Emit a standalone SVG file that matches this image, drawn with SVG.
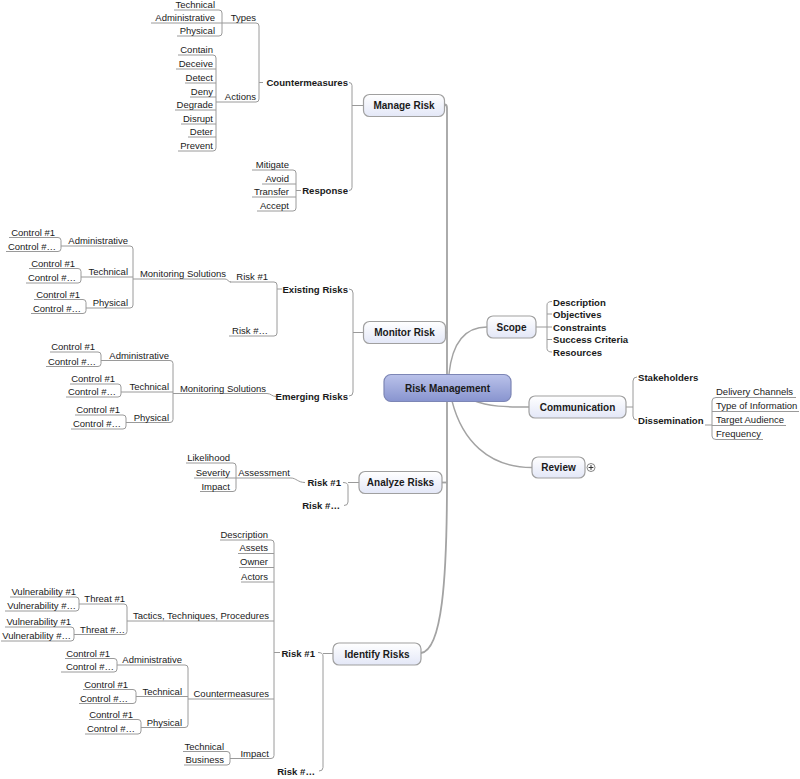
<svg xmlns="http://www.w3.org/2000/svg" width="800" height="779" viewBox="0 0 800 779">
<defs>
<linearGradient id="sub" x1="0" y1="0" x2="0" y2="1"><stop offset="0" stop-color="#ffffff"/><stop offset="1" stop-color="#e3e7f7"/></linearGradient>
<linearGradient id="rootg" x1="0" y1="0" x2="0" y2="1"><stop offset="0" stop-color="#bac2ea"/><stop offset="1" stop-color="#8894cf"/></linearGradient>
</defs>
<style>
.t{font-family:"Liberation Sans",Arial,Helvetica,sans-serif;font-size:9.5px;fill:#1a1a1a}
.b{font-weight:bold;font-size:9.6px}
.bx{font-weight:bold;font-size:10px;text-anchor:middle}
.e{text-anchor:end}
.u{fill:none;stroke:#9a9a9a;stroke-width:1}
.c{fill:none;stroke:#9a9a9a;stroke-width:1}
.k{fill:none;stroke:#a3a3a3;stroke-width:1.8}
.rc{fill:none;stroke:#a3a3a3;stroke-width:1.4}
.box{fill:url(#sub);stroke:#a0a0a0;stroke-width:1.2}
.root{fill:url(#rootg);stroke:#7d86b5;stroke-width:1.2}
</style>
<rect width="800" height="779" fill="#ffffff"/>

<g id="connectors">
<path class="k" d="M444.5,104.5 Q447,104.5 447,108 V480 C447,580 442,650 421,653"/>
<path class="k" d="M445.5,332.5 H447"/>
<path class="k" d="M442,482.5 H447"/>
<path class="rc" d="M449,374 C452,345 463,327 487,327"/>
<path class="rc" d="M472,400 C490,407 505,407 529,407"/>
<path class="rc" d="M452,401 C462,440 488,467.5 532,467.5"/>
<!-- Manage Risk -->
<path class="c" d="M349,82.5 Q352,82.5 352,85.5 V187.5 Q352,190.5 349,190.5 M352,105.5 H363.5"/>
<path class="c" d="M256,23 Q259,23 259,26 V99 Q259,102 256,102 M259,82.5 H263"/>
<path class="c" d="M219,10 Q222,10 222,13 V33 Q222,36 219,36"/>
<path class="c" d="M213,55 Q216,55 216,58 V148 Q216,151 213,151"/>
<path class="c" d="M293,170 Q296,170 296,173 V208 Q296,211 293,211 M296,190.5 H301"/>
<!-- Monitor Risk -->
<path class="c" d="M349,289 Q353,289 353,293 V392 Q353,396 349,396 M353,332.5 H363.5"/>
<path class="c" d="M274,282 Q277,282 277,285 V333 Q277,336 274,336 M277,289 H282"/>
<path class="c" d="M225,279 C228,279 228,282 231,282"/>
<path class="c" d="M130,246 Q133,246 133,249 V305 Q133,308 130,308"/>
<path class="c" d="M58,237.5 Q61,237.5 61,240.5 V248.5 Q61,251.5 58,251.5"/>
<path class="c" d="M78,268.5 Q81,268.5 81,271.5 V280 Q81,283 78,283"/>
<path class="c" d="M83,299.5 Q86,299.5 86,302.5 V310.5 Q86,313.5 83,313.5"/>
<path class="c" d="M267,393.5 C271,393.5 272,396.5 276,396.5"/>
<path class="c" d="M170,360.5 Q173,360.5 173,363.5 V419.5 Q173,422.5 170,422.5"/>
<path class="c" d="M98,352 Q101,352 101,355 V363.5 Q101,366.5 98,366.5"/>
<path class="c" d="M118,384 Q121,384 121,387 V394 Q121,397 118,397"/>
<path class="c" d="M123,415 Q126,415 126,418 V426 Q126,429 123,429"/>
<!-- Analyze Risks -->
<path class="c" d="M343,482.5 Q348,482.5 348,486 V502 Q348,505.5 344,505.5 M348,482.5 H359"/>
<path class="c" d="M291,478 C296,478 298,482.5 305,482.5"/>
<path class="c" d="M233,463 Q236,463 236,466 V488.5 Q236,491.5 233,491.5"/>
<!-- Identify Risks -->
<path class="c" d="M318,652.5 Q323,652.5 323,656 V767.5 Q323,771 319,771 M323,653.5 H333"/>
<path class="c" d="M271,540 Q274,540 274,543 V755.5 Q274,758.5 271,758.5 M274,652.5 H280"/>
<path class="c" d="M124,604 Q127,604 127,607 V631.5 Q127,634.5 124,634.5"/>
<path class="c" d="M76,597 Q79,597 79,600 V608 Q79,611 76,611"/>
<path class="c" d="M71,627 Q74,627 74,630 V638 Q74,641 71,641"/>
<path class="c" d="M185,665 Q188,665 188,668 V724.5 Q188,727.5 185,727.5"/>
<path class="c" d="M114,658.5 Q117,658.5 117,661.5 V669 Q117,672 114,672"/>
<path class="c" d="M133,689.5 Q136,689.5 136,692.5 V700.5 Q136,703.5 133,703.5"/>
<path class="c" d="M138,719.5 Q141,719.5 141,722.5 V731 Q141,734 138,734"/>
<path class="c" d="M227,751.5 Q230,751.5 230,754.5 V762 Q230,765 227,765"/>
<!-- Right side -->
<path class="c" d="M552,301.5 Q547,301.5 547,305 V348.5 Q547,352 552,352 M547,314 H552 M547,327 H552 M547,339.5 H552 M536,327 H547"/>
<path class="c" d="M637,377 Q633,377 633,381 V416 Q633,420 637,420 M626,407 H633"/>
<path class="c" d="M705,425 H712 M716,397.5 Q712,397.5 712,401 V436 Q712,439.5 716,439.5"/>
</g>

<!-- ROOT -->
<g id="risk-management"><rect class="root" x="384" y="374.5" width="127" height="27" rx="7"/><text class="t bx" x="447.5" y="391.5">Risk Management</text></g>

<!-- MANAGE RISK -->
<g id="manage-risk"><rect class="box" x="363.5" y="94.5" width="81" height="22" rx="6"/><text class="t bx" x="404" y="109">Manage Risk</text></g>
<g id="mr-countermeasures"><text class="t b e" x="348" y="86">Countermeasures</text></g>
<g id="mr-types"><path class="u" d="M222,23 H256"/><text class="t e" x="256" y="21">Types</text></g>
<g id="mr-types-technical"><path class="u" d="M174,10 H219"/><text class="t e" x="215" y="8.3">Technical</text></g>
<g id="mr-types-administrative"><path class="u" d="M151,23 H222"/><text class="t e" x="215" y="21">Administrative</text></g>
<g id="mr-types-physical"><path class="u" d="M177,36 H219"/><text class="t e" x="215" y="34">Physical</text></g>
<g id="mr-actions"><path class="u" d="M216,102 H256"/><text class="t e" x="256" y="100">Actions</text></g>
<g id="mr-contain"><path class="u" d="M178,55 H213"/><text class="t e" x="213" y="53">Contain</text></g>
<g id="mr-deceive"><path class="u" d="M176,69 H216"/><text class="t e" x="213" y="66.8">Deceive</text></g>
<g id="mr-detect"><path class="u" d="M185,83 H216"/><text class="t e" x="213" y="80.8">Detect</text></g>
<g id="mr-deny"><path class="u" d="M190,97 H216"/><text class="t e" x="213" y="94.5">Deny</text></g>
<g id="mr-degrade"><path class="u" d="M175,110 H216"/><text class="t e" x="213" y="107.8">Degrade</text></g>
<g id="mr-disrupt"><path class="u" d="M181,124 H216"/><text class="t e" x="213" y="121.5">Disrupt</text></g>
<g id="mr-deter"><path class="u" d="M188,137 H216"/><text class="t e" x="213" y="135">Deter</text></g>
<g id="mr-prevent"><path class="u" d="M178,151 H213"/><text class="t e" x="213" y="148.5">Prevent</text></g>
<g id="mr-response"><text class="t b e" x="348" y="194">Response</text></g>
<g id="mr-mitigate"><path class="u" d="M252,170 H293"/><text class="t e" x="289" y="167.8">Mitigate</text></g>
<g id="mr-avoid"><path class="u" d="M262,184 H296"/><text class="t e" x="289" y="181.7">Avoid</text></g>
<g id="mr-transfer"><path class="u" d="M252,197 H296"/><text class="t e" x="289" y="194.5">Transfer</text></g>
<g id="mr-accept"><path class="u" d="M257,211 H293"/><text class="t e" x="289" y="208.8">Accept</text></g>

<!-- MONITOR RISK -->
<g id="monitor-risk"><rect class="box" x="363.5" y="321.5" width="82" height="22" rx="6"/><text class="t bx" x="404.5" y="336">Monitor Risk</text></g>
<g id="mo-existing-risks"><text class="t b e" x="348" y="292.5">Existing Risks</text></g>
<g id="mo-ex-risk1"><path class="u" d="M230,282 H274"/><text class="t e" x="268" y="280">Risk #1</text></g>
<g id="mo-ex-riskn"><path class="u" d="M229,336 H274"/><text class="t e" x="268" y="334">Risk #…</text></g>
<g id="mo-ex-monitoring"><path class="u" d="M133,279 H225"/><text class="t e" x="226" y="277">Monitoring Solutions</text></g>
<g id="mo-ex-administrative"><path class="u" d="M61,246 H130"/><text class="t e" x="128" y="244">Administrative</text></g>
<g id="mo-ex-technical"><path class="u" d="M81,277 H133"/><text class="t e" x="128" y="275">Technical</text></g>
<g id="mo-ex-physical"><path class="u" d="M86,308 H130"/><text class="t e" x="128" y="306">Physical</text></g>
<g id="mo-ex-adm-c1"><path class="u" d="M9,237.5 H58"/><text class="t e" x="55" y="235.5">Control #1</text></g>
<g id="mo-ex-adm-cn"><path class="u" d="M6,251.5 H58"/><text class="t e" x="56" y="249.5">Control #…</text></g>
<g id="mo-ex-tec-c1"><path class="u" d="M29,268.5 H78"/><text class="t e" x="75" y="266.5">Control #1</text></g>
<g id="mo-ex-tec-cn"><path class="u" d="M26,283 H78"/><text class="t e" x="76" y="281">Control #…</text></g>
<g id="mo-ex-phy-c1"><path class="u" d="M34,299.5 H83"/><text class="t e" x="80" y="297.5">Control #1</text></g>
<g id="mo-ex-phy-cn"><path class="u" d="M31,313.5 H83"/><text class="t e" x="81" y="311.5">Control #…</text></g>
<g id="mo-emerging-risks"><text class="t b e" x="348" y="400">Emerging Risks</text></g>
<g id="mo-em-monitoring"><path class="u" d="M173,393.5 H267"/><text class="t e" x="266" y="391.5">Monitoring Solutions</text></g>
<g id="mo-em-administrative"><path class="u" d="M101,360.5 H170"/><text class="t e" x="169" y="358.5">Administrative</text></g>
<g id="mo-em-technical"><path class="u" d="M121,392 H173"/><text class="t e" x="169" y="390">Technical</text></g>
<g id="mo-em-physical"><path class="u" d="M126,422.5 H170"/><text class="t e" x="169" y="420.5">Physical</text></g>
<g id="mo-em-adm-c1"><path class="u" d="M50,352 H98"/><text class="t e" x="95" y="350">Control #1</text></g>
<g id="mo-em-adm-cn"><path class="u" d="M46,366.5 H98"/><text class="t e" x="96" y="364.5">Control #…</text></g>
<g id="mo-em-tec-c1"><path class="u" d="M70,384 H118"/><text class="t e" x="115" y="382">Control #1</text></g>
<g id="mo-em-tec-cn"><path class="u" d="M66,397 H118"/><text class="t e" x="116" y="395">Control #…</text></g>
<g id="mo-em-phy-c1"><path class="u" d="M75,415 H123"/><text class="t e" x="120" y="413">Control #1</text></g>
<g id="mo-em-phy-cn"><path class="u" d="M71,429 H123"/><text class="t e" x="121" y="427">Control #…</text></g>

<!-- ANALYZE RISKS -->
<g id="analyze-risks"><rect class="box" x="359" y="471.5" width="83" height="22" rx="6"/><text class="t bx" x="400.5" y="486">Analyze Risks</text></g>
<g id="an-risk1"><text class="t b e" x="341" y="486">Risk #1</text></g>
<g id="an-riskn"><text class="t b e" x="340" y="509">Risk #…</text></g>
<g id="an-assessment"><path class="u" d="M236,478 H291"/><text class="t e" x="290" y="475.5">Assessment</text></g>
<g id="an-likelihood"><path class="u" d="M186,463 H233"/><text class="t e" x="230" y="461">Likelihood</text></g>
<g id="an-severity"><path class="u" d="M194,478 H236"/><text class="t e" x="230" y="475.5">Severity</text></g>
<g id="an-impact"><path class="u" d="M200,491.5 H233"/><text class="t e" x="230" y="489.5">Impact</text></g>

<!-- IDENTIFY RISKS -->
<g id="identify-risks"><rect class="box" x="333" y="643" width="88" height="22" rx="6"/><text class="t bx" x="377" y="657.5">Identify Risks</text></g>
<g id="id-risk1"><text class="t b e" x="315" y="656.5">Risk #1</text></g>
<g id="id-riskn"><text class="t b e" x="315" y="775">Risk #…</text></g>
<g id="id-description"><path class="u" d="M220,540 H271"/><text class="t e" x="268" y="537.8">Description</text></g>
<g id="id-assets"><path class="u" d="M238,553.5 H274"/><text class="t e" x="268" y="551.3">Assets</text></g>
<g id="id-owner"><path class="u" d="M239,567.5 H274"/><text class="t e" x="268" y="565.3">Owner</text></g>
<g id="id-actors"><path class="u" d="M241,582 H274"/><text class="t e" x="268" y="579.6">Actors</text></g>
<g id="id-ttp"><path class="u" d="M127,621 H274"/><text class="t e" x="269" y="619">Tactics, Techniques, Procedures</text></g>
<g id="id-threat1"><path class="u" d="M79,604 H124"/><text class="t e" x="125" y="602">Threat #1</text></g>
<g id="id-threatn"><path class="u" d="M74,634.5 H124"/><text class="t e" x="125" y="632.5">Threat #…</text></g>
<g id="id-t1-v1"><path class="u" d="M10,597 H76"/><text class="t e" x="76" y="595">Vulnerability #1</text></g>
<g id="id-t1-vn"><path class="u" d="M5,611 H76"/><text class="t e" x="76" y="609">Vulnerability #…</text></g>
<g id="id-tn-v1"><path class="u" d="M5,627 H71"/><text class="t e" x="71" y="625">Vulnerability #1</text></g>
<g id="id-tn-vn"><path class="u" d="M1,641 H71"/><text class="t e" x="71" y="639">Vulnerability #…</text></g>
<g id="id-countermeasures"><path class="u" d="M188,699 H274"/><text class="t e" x="269" y="697">Countermeasures</text></g>
<g id="id-administrative"><path class="u" d="M117,665 H185"/><text class="t e" x="182" y="663">Administrative</text></g>
<g id="id-technical"><path class="u" d="M136,696.5 H188"/><text class="t e" x="182" y="694.5">Technical</text></g>
<g id="id-physical"><path class="u" d="M141,727.5 H185"/><text class="t e" x="182" y="725.5">Physical</text></g>
<g id="id-adm-c1"><path class="u" d="M65,658.5 H114"/><text class="t e" x="110" y="656.5">Control #1</text></g>
<g id="id-adm-cn"><path class="u" d="M61,672 H114"/><text class="t e" x="114" y="670">Control #…</text></g>
<g id="id-tec-c1"><path class="u" d="M83,689.5 H133"/><text class="t e" x="128" y="687.5">Control #1</text></g>
<g id="id-tec-cn"><path class="u" d="M79,703.5 H133"/><text class="t e" x="128" y="701.5">Control #…</text></g>
<g id="id-phy-c1"><path class="u" d="M89,719.5 H138"/><text class="t e" x="133" y="717.5">Control #1</text></g>
<g id="id-phy-cn"><path class="u" d="M85,734 H138"/><text class="t e" x="135" y="732">Control #…</text></g>
<g id="id-impact"><path class="u" d="M230,758.5 H271"/><text class="t e" x="269" y="756.5">Impact</text></g>
<g id="id-impact-technical"><path class="u" d="M183,751.5 H227"/><text class="t e" x="224" y="749.5">Technical</text></g>
<g id="id-impact-business"><path class="u" d="M184,765 H227"/><text class="t e" x="224" y="763">Business</text></g>

<!-- SCOPE -->
<g id="scope"><rect class="box" x="487" y="316" width="49" height="22" rx="6"/><text class="t bx" x="511.5" y="330.5">Scope</text></g>
<g id="sc-description"><text class="t b" x="553" y="305.5">Description</text></g>
<g id="sc-objectives"><text class="t b" x="553" y="318">Objectives</text></g>
<g id="sc-constraints"><text class="t b" x="553" y="330.5">Constraints</text></g>
<g id="sc-success"><text class="t b" x="553" y="343.3">Success Criteria</text></g>
<g id="sc-resources"><text class="t b" x="553" y="356">Resources</text></g>

<!-- COMMUNICATION -->
<g id="communication"><rect class="box" x="529" y="396" width="97" height="22" rx="6"/><text class="t bx" x="577.5" y="410.5">Communication</text></g>
<g id="co-stakeholders"><text class="t b" x="638" y="381">Stakeholders</text></g>
<g id="co-dissemination"><text class="t b" x="638" y="424">Dissemination</text></g>
<g id="co-delivery"><path class="u" d="M716,397.5 H796"/><text class="t" x="716" y="395">Delivery Channels</text></g>
<g id="co-type"><path class="u" d="M712,411.5 H799"/><text class="t" x="716" y="409">Type of Information</text></g>
<g id="co-target"><path class="u" d="M712,425.5 H786"/><text class="t" x="716" y="423">Target Audience</text></g>
<g id="co-frequency"><path class="u" d="M716,439.5 H763"/><text class="t" x="716" y="437">Frequency</text></g>

<!-- REVIEW -->
<g id="review"><rect class="box" x="532" y="457" width="53" height="21" rx="6"/><text class="t bx" x="558.5" y="471">Review</text>
<circle cx="591" cy="467.5" r="4" fill="#ffffff" stroke="#777777" stroke-width="0.9"/><path d="M588.6,467.5 H593.4 M591,465.1 V469.9" stroke="#333333" stroke-width="1"/></g>
</svg>
